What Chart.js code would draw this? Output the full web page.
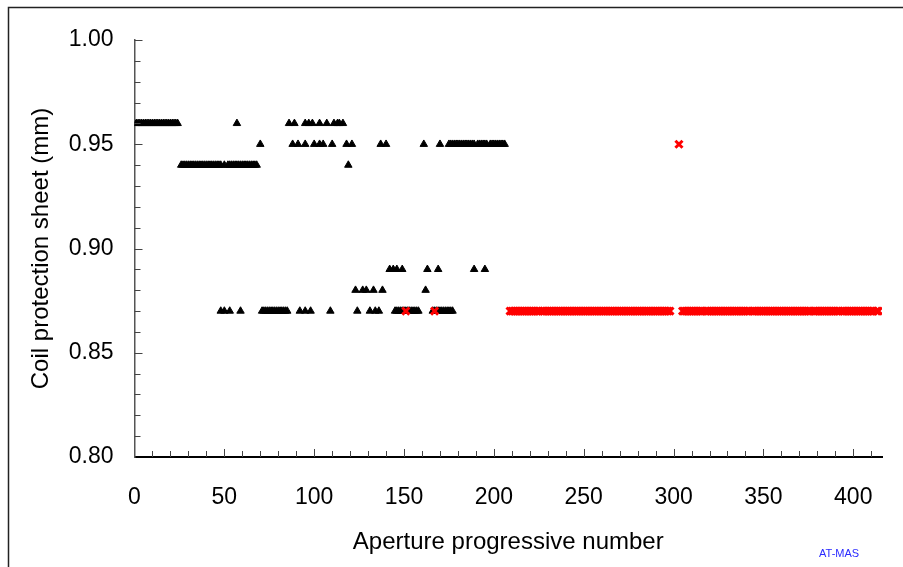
<!DOCTYPE html>
<html>
<head>
<meta charset="utf-8">
<script src="https://cdn.jsdelivr.net/npm/chart.js@4/dist/chart.umd.min.js"></script>
<style>
  html, body { margin: 0; padding: 0; background: #fff; }
  #wrap { width: 903px; height: 567px; }
</style>
</head>
<body>
<div id="wrap"><canvas id="coil" width="903" height="567"></canvas></div>
<script>
// coil protection sheet thickness vs aperture number
// black triangles, grouped by thickness level (x = aperture progressive number)
const triAt096 = [1, 2, 3, 4, 5, 6, 7, 8, 9, 10, 11, 12, 13, 14, 15, 16, 17, 18, 19, 20, 21, 22, 23, 24,
  57, 86, 89, 95, 97, 99, 103, 107, 111, 113, 114, 116];
const triAt095 = [70, 88, 91, 95, 100, 103, 105, 110, 118, 121, 137, 140, 161, 170,
  175, 176, 177, 178, 179, 180, 181, 182, 183, 184, 185, 186, 187, 188, 189, 191, 192, 193, 194, 195,
  196, 198, 199, 200, 201, 202, 203, 204, 205, 206];
const triAt094 = [26, 27, 28, 29, 30, 31, 32, 33, 34, 35, 36, 37, 38, 39, 40, 41, 42, 43, 44, 45, 46, 47, 48,
  50, 52, 53, 54, 55, 56, 57, 58, 59, 60, 61, 62, 63, 64, 65, 66, 67, 68, 119];
const triAt089 = [142, 144, 146, 149, 163, 169, 189, 195];
const triAt088 = [123, 127, 129, 133, 138, 162];
const triAt087 = [48, 50, 53, 59, 71, 72, 73, 74, 75, 76, 77, 78, 79, 80, 81, 82, 83, 84, 85,
  92, 95, 98, 109, 124, 131, 134, 136,
  145, 146, 147, 148, 149, 150, 151, 152, 153, 154, 155, 156, 157, 158,
  166, 167, 168, 169, 170, 171, 172, 173, 174, 175, 176, 177];

// red crosses
const crossAt095 = [303];
const crossAt087 = [151, 167,
  209, 210, 211, 212, 213, 214, 215, 216, 217, 218, 219, 220, 221, 222, 223, 224, 225, 227, 228, 229,
  230, 231, 232, 233, 234, 235, 236, 237, 238, 239, 240, 241, 242, 243, 244, 245, 246, 247, 248, 249,
  250, 251, 252, 253, 254, 255, 256, 257, 258, 259, 260, 261, 262, 263, 264, 265, 266, 267, 268, 269,
  270, 271, 272, 273, 274, 275, 276, 277, 278, 279, 280, 281, 282, 283, 284, 285, 286, 287, 288, 289,
  290, 291, 292, 293, 294, 295, 296, 297, 298,
  305, 306, 307, 308, 309, 310, 311, 312, 313, 314, 315, 316, 318, 319, 320, 321, 322, 323, 324, 325,
  326, 327, 328, 329, 330, 331, 332, 333, 334, 335, 336, 337, 338, 339, 340, 341, 342, 344, 345, 346,
  347, 348, 349, 350, 351, 352, 353, 354, 355, 356, 357, 358, 359, 360, 361, 362, 363, 364, 365, 366,
  367, 368, 369, 370, 371, 372, 373, 374, 375, 376, 378, 379, 380, 381, 382, 383, 384, 385, 386, 387,
  388, 389, 390, 391, 392, 394, 395, 396, 397, 398, 399, 400, 401, 402, 403, 404, 405, 406, 407, 408,
  409, 410, 411, 413, 414];

const yTickLabels = ['0.80', '0.85', '0.90', '0.95', '1.00'];
const xTickLabels = ['0', '50', '100', '150', '200', '250', '300', '350', '400'];

function pts(xs, level) {
  return xs.map(x => ({ x: x, y: level }));
}

const triangles = [].concat(
  pts(triAt096, 0.96), pts(triAt095, 0.95), pts(triAt094, 0.94),
  pts(triAt089, 0.89), pts(triAt088, 0.88), pts(triAt087, 0.87)
);
const crosses = [].concat(pts(crossAt095, 0.95), pts(crossAt087, 0.87));

const FONT = "'Liberation Sans', Arial, sans-serif";

// frame, inward tick marks, footer tag
const decorations = {
  id: 'decorations',
  beforeDraw(chart) {
    const c = chart.ctx;
    c.save();
    c.strokeStyle = '#222';
    c.lineWidth = 1.5;
    c.beginPath();
    c.moveTo(8.5, 567);
    c.lineTo(8.5, 7.5);
    c.lineTo(903, 7.5);
    c.stroke();
    c.restore();
  },
  afterDraw(chart) {
    const c = chart.ctx;
    const xs = chart.scales.x, ys = chart.scales.y;
    const area = chart.chartArea;
    c.save();
    c.strokeStyle = '#444';
    c.lineWidth = 1;
    for (let v = 10; v <= 410; v += 10) {
      const px = Math.round(xs.getPixelForValue(v)) + 0.5;
      const len = v % 50 === 0 ? 8 : 6;
      c.beginPath();
      c.moveTo(px, area.bottom);
      c.lineTo(px, area.bottom - len);
      c.stroke();
    }
    for (let i = 1; i <= 20; i++) {
      const v = 0.8 + i * 0.01;
      const py = Math.round(ys.getPixelForValue(v)) + 0.5;
      const len = i % 5 === 0 ? 8 : 6;
      c.beginPath();
      c.moveTo(area.left, py);
      c.lineTo(area.left + len, py);
      c.stroke();
    }
    c.fillStyle = '#2a2aff';
    c.font = '11px ' + FONT;
    c.textAlign = 'left';
    c.textBaseline = 'alphabetic';
    c.fillText('AT-MAS', 819, 557);
    c.restore();
  }
};

new Chart(document.getElementById('coil').getContext('2d'), {
  type: 'scatter',
  data: {
    datasets: [{
      label: 'red',
      data: crosses,
      order: 0,
      pointStyle: 'crossRot',
      pointRadius: 5,
      pointBorderWidth: 3,
      borderColor: '#ff0000',
      backgroundColor: '#ff0000'
    }, {
      label: 'black',
      data: triangles,
      order: 1,
      pointStyle: 'triangle',
      pointRadius: 4.3,
      pointBorderWidth: 1,
      borderColor: '#000',
      backgroundColor: '#000'
    }]
  },
  options: {
    responsive: false,
    animation: false,
    events: [],
    layout: { padding: { top: 40, right: 21, left: 0, bottom: 0 } },
    plugins: { legend: { display: false }, tooltip: { enabled: false } },
    scales: {
      x: {
        type: 'linear',
        min: 0,
        max: 416,
        grid: { display: false, drawTicks: false },
        border: { display: true, color: '#000', width: 2 },
        afterBuildTicks: s => { s.ticks = xTickLabels.map(l => ({ value: Number(l) })); },
        afterFit: s => { s.height = 110; },
        ticks: {
          padding: 27,
          color: '#000',
          font: { family: FONT, size: 23 },
          maxRotation: 0,
          autoSkip: false
        },
        title: {
          display: true,
          text: 'Aperture progressive number',
          color: '#000',
          font: { family: FONT, size: 24 },
          padding: { top: 0, bottom: 10 }
        }
      },
      y: {
        type: 'linear',
        min: 0.8,
        max: 1.0,
        grid: { display: false, drawTicks: false },
        border: { display: true, color: '#555', width: 1.5 },
        afterBuildTicks: s => { s.ticks = yTickLabels.map(l => ({ value: Number(l) })); },
        afterFit: s => { s.width = 134.5; },
        ticks: {
          padding: 21,
          color: '#000',
          font: { family: FONT, size: 23 },
          callback: v => v.toFixed(2)
        },
        title: {
          display: true,
          text: 'Coil protection sheet (mm)',
          color: '#000',
          font: { family: FONT, size: 24 },
          padding: { top: 27, bottom: 0 }
        }
      }
    }
  },
  plugins: [decorations]
});
</script>
</body>
</html>
